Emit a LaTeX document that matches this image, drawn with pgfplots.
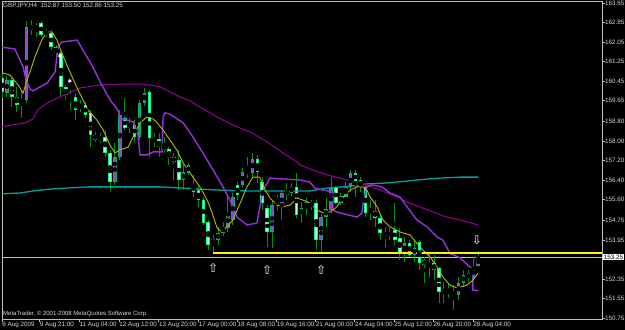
\documentclass[border=0pt]{standalone}
\usepackage{pgfplots}
\pgfplotsset{compat=1.18}
\usepackage{pgfplotstable}
\usepackage{fontspec}
\setmainfont{Liberation Sans}
\newfontfamily\symfont{DejaVu Sans}
\definecolor{wick}{RGB}{0,150,0}
\definecolor{bearout}{RGB}{0,255,128}
\definecolor{bearin}{RGB}{170,255,220}
\definecolor{bullout}{RGB}{0,180,110}
\definecolor{bullin}{RGB}{140,70,200}
\definecolor{frame}{RGB}{192,192,192}
\definecolor{tealma}{RGB}{0,160,160}
\definecolor{magma}{RGB}{153,0,153}
\definecolor{violetma}{RGB}{150,50,220}
\definecolor{olivema}{RGB}{185,185,0}
\definecolor{txt}{RGB}{215,215,215}

\pgfplotstableread{
k o h l c
0 160.58 160.74 159.76 160.01
2 160.50 160.58 159.39 159.80
3 159.80 160.21 159.19 159.47
6 162.75 162.95 162.34 162.54
8 162.83 162.91 162.26 162.34
10 162.42 162.54 161.73 161.85
11 161.85 161.93 161.44 161.60
12 161.60 161.69 159.80 160.21
13 160.21 160.29 159.68 159.88
15 159.80 159.97 158.86 159.27
17 159.47 159.60 158.94 159.06
18 159.15 159.27 157.75 158.25
19 158.25 158.37 157.96 158.04
21 158.16 158.45 157.34 157.51
22 157.51 157.63 155.91 156.32
25 158.94 159.76 158.45 158.53
26 158.74 158.94 158.33 158.53
27 158.65 158.86 157.96 158.16
30 160.01 160.09 157.34 158.12
31 158.16 158.33 157.75 158.00
32 158.08 158.33 157.34 157.75
33 157.83 158.16 157.51 157.63
34 157.67 157.75 157.02 157.30
35 157.34 157.51 156.40 157.14
36 157.22 157.63 155.99 156.40
39 156.20 156.61 155.71 155.91
40 155.99 156.12 155.30 155.58
41 155.58 155.71 154.56 154.64
42 154.68 154.76 153.54 153.74
48 156.20 156.32 155.58 155.79
50 156.77 157.34 156.48 156.69
52 157.26 157.43 156.28 156.73
53 156.32 156.52 155.17 155.46
54 155.26 155.38 153.66 154.27
56 155.67 155.79 155.17 155.50
60 156.12 156.69 154.85 154.97
63 155.46 155.58 155.17 155.34
64 155.46 155.58 153.54 153.95
68 156.12 156.16 155.42 155.46
72 156.69 156.81 155.71 156.36
73 156.40 156.52 155.91 156.12
74 156.12 156.20 154.89 155.05
75 155.17 155.58 154.76 155.05
76 155.13 155.58 154.48 154.85
77 154.85 154.97 153.95 154.23
78 154.23 154.48 153.66 154.11
80 154.36 155.46 153.74 153.95
81 154.03 154.44 153.13 153.41
83 153.82 153.95 153.25 153.33
85 153.86 153.95 152.72 153.00
86 153.13 153.25 152.18 152.92
88 153.00 153.33 152.31 152.72
89 152.80 152.84 151.37 151.82
91 151.86 152.18 151.57 151.78
92 151.82 152.10 151.08 151.69
95 152.59 152.72 152.23 152.39
}\beartable

\pgfplotstableread{
k o h l c
1 159.97 160.66 159.80 160.50
4 159.56 160.09 158.94 159.68
5 159.68 162.91 159.56 162.67
7 162.59 162.83 162.26 162.71
9 162.34 162.59 162.26 162.50
14 159.76 160.09 159.27 159.88
16 159.35 159.68 159.19 159.47
20 158.04 158.33 157.92 158.16
23 156.32 157.92 156.20 157.34
24 157.34 159.27 157.22 159.06
28 158.16 159.68 158.04 159.56
29 159.56 160.17 159.43 159.97
37 156.40 157.10 155.99 156.73
38 156.69 157.10 156.61 157.02
43 153.78 154.15 153.41 153.99
44 153.95 154.48 153.74 154.23
45 154.23 154.68 154.11 154.48
46 154.44 155.71 154.27 155.05
47 154.76 155.87 154.56 155.71
49 156.20 156.89 156.07 156.73
51 156.69 157.51 156.52 157.26
55 154.27 155.58 153.62 155.38
57 155.30 155.99 154.76 155.87
58 155.79 156.28 155.58 155.99
59 155.87 156.28 155.75 156.12
61 154.97 155.50 154.64 155.26
62 155.26 155.67 154.97 155.50
65 153.95 155.01 153.45 154.89
66 154.89 155.67 154.48 155.21
67 155.17 156.52 155.05 156.07
69 155.46 155.87 155.38 155.75
70 155.71 156.32 155.67 156.12
71 156.12 156.81 155.91 156.69
79 154.15 154.44 153.95 154.23
82 153.41 154.07 153.04 153.82
84 153.33 153.95 153.04 153.62
87 152.88 153.41 152.39 153.00
90 151.82 152.23 151.37 151.90
93 151.69 152.43 151.49 152.18
94 152.18 152.72 152.02 152.51
96 152.39 153.25 152.31 152.84
97 152.87 153.50 152.86 153.25
}\bulltable

\pgfplotsset{
  wickstyle/.style={only marks, mark=none, forget plot,
    error bars/.cd, y dir=both, y explicit, error mark=none,
    error bar style={draw=wick, line width=0.9bp, solid}},
  bodystyle/.style 2 args={only marks, mark=none, forget plot,
    error bars/.cd, y dir=both, y explicit, error mark=none,
    error bar style={draw=#1, line width=#2, solid}},
}

\begin{document}
\begin{tikzpicture}
\fill[black] (0,0) rectangle (625bp,330bp);
\path[use as bounding box] (0,0) rectangle (625bp,330bp);
\begin{axis}[
  at={(2bp,11bp)}, anchor=south west,
  scale only axis, width=600bp, height=317.5bp,
  xmin=0, xmax=122.2, ymin=150.71, ymax=163.71,
  axis background/.style={fill=black},
  axis line style={draw=frame, line width=0.9bp},
  clip=true,
  ytick={163.65,162.85,162.05,161.25,160.45,159.65,158.80,158.00,157.20,156.40,155.60,154.75,153.95,152.35,151.55,150.75},
  yticklabels={163.65,162.85,162.05,161.25,160.45,159.65,158.80,158.00,157.20,156.40,155.60,154.75,153.95,152.35,151.55,150.75},
  xtick={0,7.6,15.7,23.8,31.9,40,47.9,55.9,63.8,71.8,79.8,87.8,95.9},
  xticklabels={6 Aug 2009,9 Aug 21:00,11 Aug 04:00,12 Aug 12:00,13 Aug 20:00,17 Aug 00:00,18 Aug 08:00,19 Aug 16:00,21 Aug 00:00,24 Aug 04:00,25 Aug 12:00,26 Aug 20:00,28 Aug 04:00},
  ytick pos=right, xtick pos=left, yticklabel pos=right,
  tick align=outside, major tick length=2.5bp,
  tick style={draw=frame, line width=0.6bp},
  yticklabel style={font=\fontsize{6.3bp}{7bp}\selectfont, text=txt, anchor=west, inner sep=0pt, xshift=0.5bp},
  xticklabel style={font=\fontsize{6.3bp}{7bp}\selectfont, text=txt, anchor=north west, inner sep=0pt, xshift=0.3bp, yshift=-0.5bp},
]
% bid line
\addplot[frame, line width=0.7bp, forget plot] coordinates {(0,153.25) (122.2,153.25)};
% wicks
\addplot[wickstyle] table[x=k, y expr={(\thisrow{h}+\thisrow{l})/2}, y error expr={(\thisrow{h}-\thisrow{l})/2}] {\beartable};
\addplot[wickstyle] table[x=k, y expr={(\thisrow{h}+\thisrow{l})/2}, y error expr={(\thisrow{h}-\thisrow{l})/2}] {\bulltable};
% bodies
\addplot[bodystyle={bearout}{3.6bp}] table[x=k, y expr={(\thisrow{o}+\thisrow{c})/2}, y error expr={max(abs(\thisrow{o}-\thisrow{c})/2,0.015)}] {\beartable};
\addplot[bodystyle={bearin}{1.6bp}] table[x=k, y expr={(\thisrow{o}+\thisrow{c})/2}, y error expr={max(abs(\thisrow{o}-\thisrow{c})/2-0.041,0)}] {\beartable};
\addplot[bodystyle={bullout}{3.6bp}] table[x=k, y expr={(\thisrow{o}+\thisrow{c})/2}, y error expr={max(abs(\thisrow{o}-\thisrow{c})/2,0.015)}] {\bulltable};
\addplot[bodystyle={bullin}{1.6bp}] table[x=k, y expr={(\thisrow{o}+\thisrow{c})/2}, y error expr={max(abs(\thisrow{o}-\thisrow{c})/2-0.041,0)}] {\bulltable};
% teal MA
\addplot[tealma, line width=1.3bp, forget plot] coordinates {(-0.5,155.83)(3.7,155.87)(6.3,155.95)(9.8,156.03)(13.2,156.07)(17.5,156.12)(32.2,156.12)(36.9,156.07)(43.8,155.99)(50.5,155.95)(62.7,155.95)(66.2,156.07)(71.5,156.16)(74.3,156.24)(78.4,156.28)(82.5,156.36)(86.6,156.44)(89.2,156.48)(93.3,156.52)(97,156.52)};
% magenta MA
\addplot[magma, line width=1bp, forget plot] coordinates {(-0.5,158.57)(4.7,158.74)(6.3,158.90)(7.3,159.27)(9.2,159.56)(11.8,159.80)(15.9,160.17)(20,160.29)(24,160.33)(28.1,160.33)(30.1,160.29)(32.2,160.21)(34.2,160.01)(36.3,159.80)(38.3,159.64)(40.3,159.39)(42.4,159.15)(43.8,158.98)(47,158.65)(50.5,158.37)(54,157.96)(57.2,157.51)(60.1,157.14)(60.7,157.02)(63.3,156.81)(66.2,156.61)(68.8,156.48)(71.5,156.32)(74.3,156.20)(77,155.99)(79.6,155.79)(82.5,155.50)(85.1,155.30)(87.8,155.09)(90.6,154.88)(93.3,154.76)(97,154.56)};
% violet line
\addplot[violetma, line width=1.4bp, forget plot] coordinates {(-0.5,161.85)(2.6,161.77)(4.3,161.03)(4.9,160.50)(5.7,160.13)(6.3,160.05)(9.2,160.37)(10.8,160.82)(11.4,161.85)(12.2,162.05)(15.3,162.13)(16.5,161.72)(18.5,161.03)(20,160.41)(22,159.68)(23.6,159.27)(24,158.94)(26.7,158.78)(27.7,158.24)(28.1,157.43)(29.5,157.43)(30.8,157.55)(32.6,157.55)(32.8,158.98)(33.2,159.15)(34.2,159.10)(36.9,158.74)(38.9,158.16)(40.9,157.51)(43,156.81)(45,156.12)(46.4,155.58)(47.9,154.88)(49.9,154.56)(51.9,154.64)(53.2,155.99)(54.6,156.48)(60.7,156.40)(62.7,156.32)(63.7,156.07)(65.4,155.99)(67.4,155.91)(67.4,155.17)(68.2,155.09)(72.3,154.88)(73.3,155.05)(73.5,155.38)(74.3,156.12)(75.4,156.20)(77.4,156.12)(79,155.87)(81.1,155.70)(82.5,155.30)(84.5,154.76)(86.6,154.48)(88.6,154.07)(89.8,153.94)(91.2,153.41)(93.3,153.21)(95.3,152.84)(95.9,152.80)(95.9,151.90)(97,151.86)};
% olive MA
\addplot[olivema, line width=0.9bp, forget plot] coordinates {(-0.5,160.82)(1.6,160.70)(3.3,160.29)(4.3,159.96)(5.1,160.50)(5.7,160.82)(6.7,161.44)(8.1,162.13)(9.2,162.46)(10.2,162.46)(11.2,162.13)(12.2,161.60)(13.2,161.11)(14.3,160.62)(15.3,160.17)(16.5,159.68)(17.5,159.27)(19.3,158.86)(20.6,158.45)(22,157.83)(23,157.51)(24,157.63)(25.7,157.75)(26.7,158.16)(28.1,158.74)(29.5,158.98)(30.8,158.90)(31.6,158.74)(32.8,158.45)(34.2,158.04)(35.6,157.63)(36.9,157.10)(38.3,156.69)(40.3,156.12)(41.8,155.58)(42.8,155.05)(43.8,154.44)(44.8,154.27)(45.8,154.48)(47,154.76)(47.9,155.17)(49.9,156.12)(51.1,156.52)(52.5,156.52)(53.6,155.99)(54.6,155.66)(56,155.38)(57.2,155.30)(58.7,155.38)(60.1,155.66)(61.3,155.58)(62.7,155.46)(64.2,155.17)(65.4,155.05)(66.8,155.09)(68.2,155.30)(69.5,155.70)(70.9,155.99)(72.3,156.12)(73.5,156.12)(74.3,155.99)(75,155.70)(76.4,155.30)(77.6,154.76)(79,154.48)(80.4,154.35)(81.1,154.27)(83.1,154.15)(85.1,153.66)(87.2,153.25)(88.6,152.84)(89.8,152.43)(91.2,152.10)(92.7,151.98)(94.7,152.10)(95.9,152.30)(97,152.59)};
% yellow support line
\addplot[yellow, line width=1.8bp, forget plot] coordinates {(43,153.41) (122.2,153.41)};
% arrows
\addplot[only marks, mark=text, text mark={\symfont ⇧}, text mark as node=true, text mark style={font=\fontsize{12bp}{12bp}\selectfont, text=white, inner sep=0pt}, forget plot] coordinates {(43,152.78) (54,152.70) (65,152.70)};
\addplot[only marks, mark=text, text mark={\symfont ⇩}, text mark as node=true, text mark style={font=\fontsize{12bp}{12bp}\selectfont, text=white, inner sep=0pt}, forget plot] coordinates {(96.7,153.92)};
% fractal stars
\addplot[only marks, mark=asterisk, mark size=2bp, white, line width=0.6bp, forget plot] coordinates {(11.8,161.48) (13.8,160.46)};
\end{axis}
\node[anchor=west, inner sep=0pt, text=txt, font=\fontsize{6.3bp}{7bp}\selectfont] at (3bp,324bp) {GBPJPY,H4\ \ 152.87 153.50 152.86 153.25};
\node[anchor=west, inner sep=0pt, text=txt, font=\fontsize{6bp}{7bp}\selectfont] at (3bp,16bp) {MetaTrader, © 2001-2008 MetaQuotes Software Corp.};
\node[anchor=west, fill=white, text=black, inner sep=0.6bp, font=\fontsize{6.3bp}{7bp}\selectfont] at (603bp,73bp) {153.25};
\end{tikzpicture}
\end{document}
